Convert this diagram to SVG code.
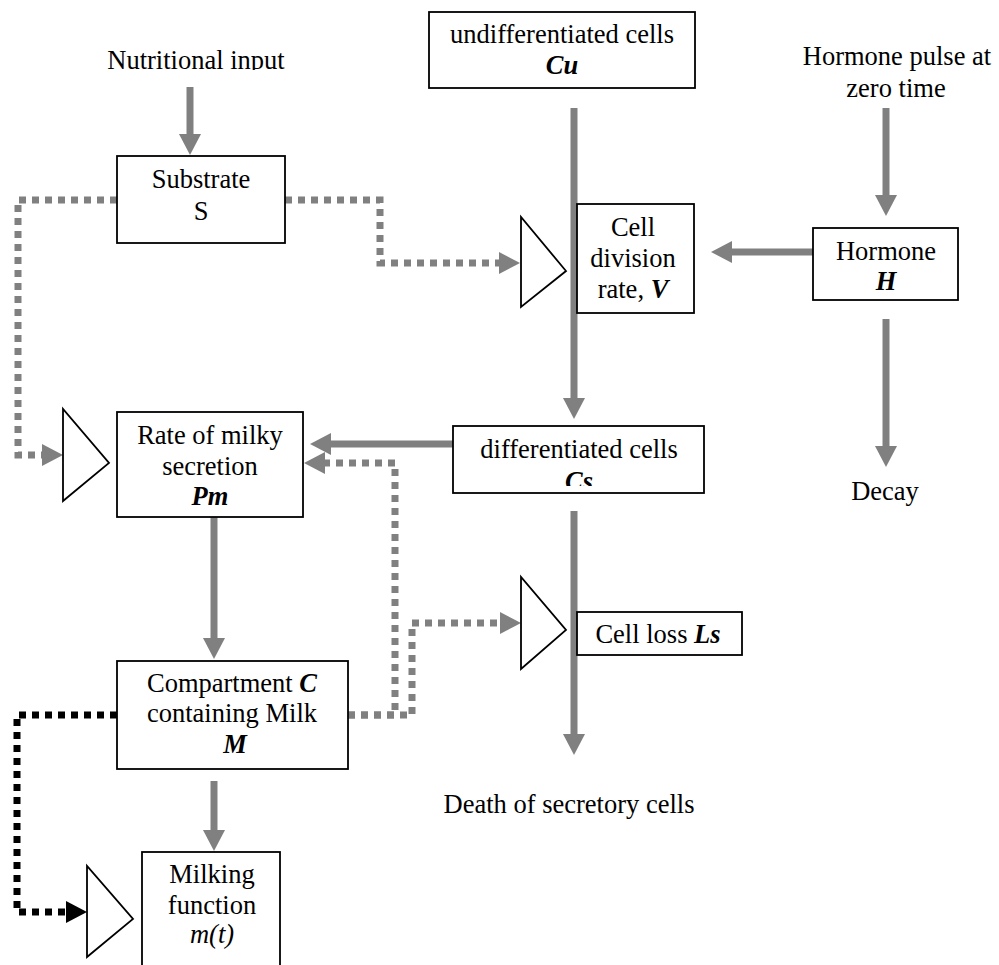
<svg xmlns="http://www.w3.org/2000/svg" width="999" height="965" viewBox="0 0 999 965">
<style>
text{font-family:"Liberation Serif","Times New Roman",serif;font-size:26.5px;fill:#000;text-anchor:middle}
.bi{font-weight:bold;font-style:italic}
.it{font-style:italic}
.box{fill:#fff;stroke:#000;stroke-width:1.8}
.tri{fill:#fff;stroke:#000;stroke-width:1.8;stroke-linejoin:miter}
.solid{fill:none;stroke:#808080;stroke-width:7}
.dot{fill:none;stroke:#808080;stroke-width:7;stroke-dasharray:7 6}
.dotk{fill:none;stroke:#000;stroke-width:7;stroke-dasharray:7 6}
</style>
<defs>
<marker id="ag" markerUnits="userSpaceOnUse" markerWidth="22" markerHeight="22" refX="0" refY="11" orient="auto" viewBox="0 0 22 22"><path d="M0,0 L21,11 L0,22 Z" fill="#808080"/></marker>
<marker id="ak" markerUnits="userSpaceOnUse" markerWidth="22" markerHeight="22" refX="0" refY="11" orient="auto" viewBox="0 0 22 22"><path d="M0,0 L21,11 L0,22 Z" fill="#000"/></marker>
<clipPath id="clipN"><rect x="0" y="0" width="400" height="70"/></clipPath>
<clipPath id="clipCs"><rect x="453" y="426" width="251" height="60"/></clipPath>
</defs>
<rect width="999" height="965" fill="#fff"/>
<g id="connectors">
<line class="solid" x1="190" y1="87" x2="190" y2="134" marker-end="url(#ag)"/>
<line class="solid" x1="574" y1="108" x2="574" y2="398" marker-end="url(#ag)"/>
<line class="solid" x1="886" y1="108" x2="886" y2="195" marker-end="url(#ag)"/>
<line class="solid" x1="813" y1="252" x2="732" y2="252" marker-end="url(#ag)"/>
<line class="solid" x1="886" y1="319" x2="886" y2="446" marker-end="url(#ag)"/>
<line class="solid" x1="453" y1="444" x2="331" y2="444" marker-end="url(#ag)"/>
<line class="solid" x1="574" y1="511" x2="574" y2="734" marker-end="url(#ag)"/>
<line class="solid" x1="214" y1="517" x2="214" y2="638" marker-end="url(#ag)"/>
<line class="solid" x1="214" y1="781" x2="214" y2="830" marker-end="url(#ag)"/>
<path class="dot" d="M117,200 H18 V455 H42" marker-end="url(#ag)"/>
<path class="dot" d="M285,200 H380 V263 H499" marker-end="url(#ag)"/>
<path class="dot" d="M348,715 H395 V463 H325" marker-end="url(#ag)"/>
<path class="dot" d="M348,715 H412 V623 H500" marker-end="url(#ag)"/>
<path class="dotk" d="M117,715 H17 V912 H66" marker-end="url(#ak)"/>
</g>
<g id="nutritional-input">
<text x="196" y="69" clip-path="url(#clipN)">Nutritional input</text>
</g>
<g id="substrate">
<rect class="box" x="117" y="156" width="168" height="87"/>
<text x="201" y="188">Substrate</text>
<text x="201" y="220">S</text>
</g>
<g id="undifferentiated-cells">
<rect class="box" x="429" y="12" width="266" height="76"/>
<text x="562" y="43">undifferentiated cells</text>
<text x="562" y="74" class="bi">Cu</text>
</g>
<g id="hormone-pulse">
<text x="897" y="65">Hormone pulse at</text>
<text x="896" y="97">zero time</text>
</g>
<g id="cell-division">
<polygon class="tri" points="521,217 521,307 566,271"/>
<rect class="box" x="577" y="204" width="117" height="109"/>
<text x="633" y="236">Cell</text>
<text x="633" y="267">division</text>
<text x="633" y="298">rate, <tspan class="bi">V</tspan></text>
</g>
<g id="hormone">
<rect class="box" x="813" y="228" width="145" height="72"/>
<text x="886" y="260">Hormone</text>
<text x="886" y="290" class="bi">H</text>
</g>
<g id="decay">
<text x="885" y="500">Decay</text>
</g>
<g id="rate-milky-secretion">
<polygon class="tri" points="63,409 63,501 109,463"/>
<rect class="box" x="117" y="412" width="186" height="105"/>
<text x="210" y="444">Rate of milky</text>
<text x="210" y="475">secretion</text>
<text x="210" y="505" class="bi">Pm</text>
</g>
<g id="differentiated-cells">
<rect class="box" x="453" y="426" width="251" height="67"/>
<text x="579" y="458">differentiated cells</text>
<text x="579" y="490" class="bi" clip-path="url(#clipCs)">Cs</text>
</g>
<g id="cell-loss">
<polygon class="tri" points="521,577 521,669 566,630"/>
<rect class="box" x="577" y="612" width="165" height="43"/>
<text x="658" y="643">Cell loss <tspan class="bi">Ls</tspan></text>
</g>
<g id="compartment">
<rect class="box" x="117" y="661" width="231" height="108"/>
<text x="232" y="692">Compartment <tspan class="bi">C</tspan></text>
<text x="232" y="722">containing Milk</text>
<text x="235" y="753" class="bi">M</text>
</g>
<g id="death">
<text x="569" y="813">Death of secretory cells</text>
</g>
<g id="milking-function">
<polygon class="tri" points="87,866 87,957 133,919"/>
<rect class="box" x="142" y="852" width="138" height="130"/>
<text x="212" y="883">Milking</text>
<text x="212" y="914">function</text>
<text x="212" y="943" class="it">m(t)</text>
</g>
</svg>
